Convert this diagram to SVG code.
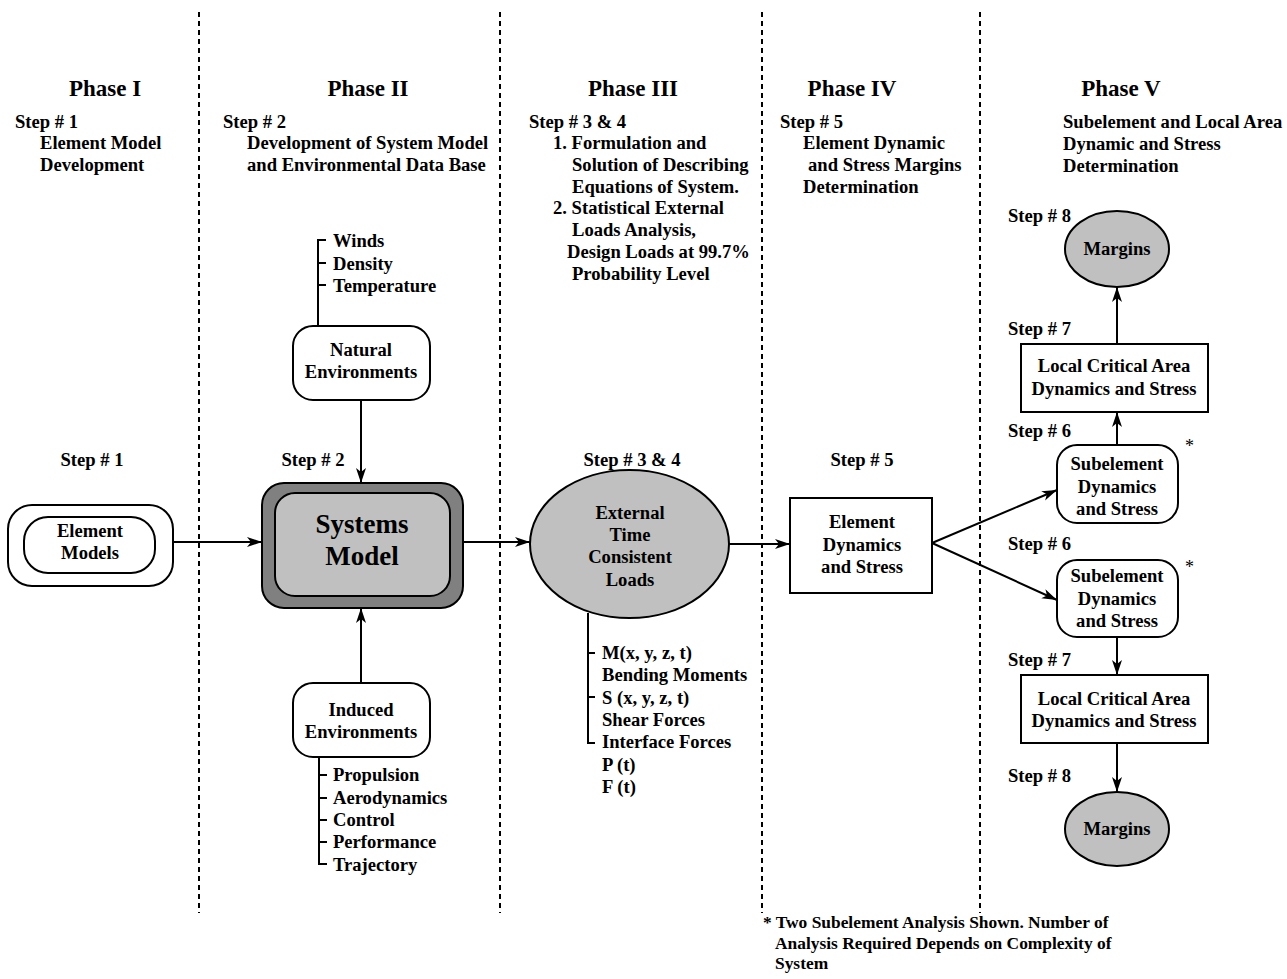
<svg xmlns="http://www.w3.org/2000/svg" width="1287" height="979" viewBox="0 0 1287 979">
<style>
text{font-family:"Liberation Serif","Times New Roman",serif;font-weight:bold;font-size:18.6px;fill:#000}
.ph{font-size:23px}
.big{font-size:27px}
.c{text-anchor:middle}
.note{font-size:17.4px}
.ast{font-weight:normal;font-size:18px}
.dash{stroke:#000;stroke-width:2;stroke-dasharray:5,4;fill:none}
.box{fill:#fff;stroke:#000;stroke-width:2}
.gray{fill:#c0c0c0;stroke:#000;stroke-width:2}
.dark{fill:#808080;stroke:#000;stroke-width:2}
.ln{stroke:#000;stroke-width:2;fill:none}
.arr{stroke:#000;stroke-width:2;fill:none;marker-end:url(#ah)}
</style>
<defs>
<marker id="ah" markerUnits="userSpaceOnUse" markerWidth="16" markerHeight="12" refX="15" refY="5" orient="auto" viewBox="0 0 16 10">
<path d="M0,0 L15,5 L0,10 L4,5 Z" fill="#000"/>
</marker>
</defs>
<g id="phase-dividers">
<line class="dash" x1="199" y1="12" x2="199" y2="913"/>
<line class="dash" x1="500" y1="12" x2="500" y2="913"/>
<line class="dash" x1="762" y1="12" x2="762" y2="913"/>
<line class="dash" x1="980" y1="12" x2="980" y2="913"/>
</g>
<g id="headers">
<text class="ph c" x="105" y="96">Phase I</text>
<text class="ph c" x="368" y="96">Phase II</text>
<text class="ph c" x="633" y="96">Phase III</text>
<text class="ph c" x="852" y="96">Phase IV</text>
<text class="ph c" x="1121" y="96">Phase V</text>
<text x="15" y="128">Step # 1</text>
<text x="40" y="149">Element Model</text>
<text x="40" y="171">Development</text>
<text x="223" y="128">Step # 2</text>
<text x="247" y="149">Development of System Model</text>
<text x="247" y="171">and Environmental Data Base</text>
<text x="529" y="128">Step # 3 &amp; 4</text>
<text x="553" y="149">1. Formulation and</text>
<text x="572" y="171">Solution of Describing</text>
<text x="572" y="193">Equations of System.</text>
<text x="553" y="214">2. Statistical External</text>
<text x="572" y="236">Loads Analysis,</text>
<text x="567" y="258">Design Loads at 99.7%</text>
<text x="572" y="280">Probability Level</text>
<text x="780" y="128">Step # 5</text>
<text x="803" y="149">Element Dynamic</text>
<text x="808" y="171">and Stress Margins</text>
<text x="803" y="193">Determination</text>
<text x="1063" y="128">Subelement and Local Area</text>
<text x="1063" y="150">Dynamic and Stress</text>
<text x="1063" y="172">Determination</text>
</g>
<g id="step-labels">
<text class="c" x="92" y="466">Step # 1</text>
<text class="c" x="313" y="466">Step # 2</text>
<text class="c" x="632" y="466">Step # 3 &amp; 4</text>
<text class="c" x="862" y="466">Step # 5</text>
<text x="1008" y="222">Step # 8</text>
<text x="1008" y="335">Step # 7</text>
<text x="1008" y="437">Step # 6</text>
<text x="1008" y="550">Step # 6</text>
<text x="1008" y="666">Step # 7</text>
<text x="1008" y="782">Step # 8</text>
</g>
<g id="connectors">
<line class="arr" x1="173" y1="542" x2="262" y2="542"/>
<line class="arr" x1="361" y1="400" x2="361" y2="483"/>
<line class="arr" x1="361" y1="683" x2="361" y2="608"/>
<line class="arr" x1="463" y1="542" x2="530" y2="542"/>
<line class="arr" x1="729" y1="544" x2="790" y2="544"/>
<line class="arr" x1="932" y1="543" x2="1057" y2="490"/>
<line class="arr" x1="932" y1="543" x2="1057" y2="600"/>
<line class="arr" x1="1117" y1="445" x2="1117" y2="412"/>
<line class="arr" x1="1117" y1="344" x2="1117" y2="287"/>
<line class="arr" x1="1117" y1="637" x2="1117" y2="675"/>
<line class="arr" x1="1117" y1="743" x2="1117" y2="792"/>
<path class="ln" d="M326,240 H318 V326 M318,263 H326 M318,285 H326"/>
<path class="ln" d="M319,757 V864 H327 M319,775 H327 M319,798 H327 M319,820 H327 M319,842 H327"/>
<path class="ln" d="M588,613 V743 H595 M588,653 H595 M588,697 H595"/>
</g>
<g id="element-models">
<rect class="box" x="8" y="505" width="165" height="81" rx="24"/>
<rect class="box" x="24" y="517" width="131" height="56" rx="24"/>
<text class="c" x="90" y="537">Element</text>
<text class="c" x="90" y="559">Models</text>
</g>
<g id="systems-model">
<rect class="dark" x="262" y="483" width="201" height="125" rx="22"/>
<rect class="gray" x="275" y="493" width="175" height="103" rx="20"/>
<text class="big c" x="362" y="533">Systems</text>
<text class="big c" x="362" y="565">Model</text>
</g>
<g id="natural-environments">
<rect class="box" x="293" y="326" width="137" height="74" rx="20"/>
<text class="c" x="361" y="356">Natural</text>
<text class="c" x="361" y="378">Environments</text>
<text x="333" y="247">Winds</text>
<text x="333" y="270">Density</text>
<text x="333" y="292">Temperature</text>
</g>
<g id="induced-environments">
<rect class="box" x="293" y="683" width="137" height="74" rx="20"/>
<text class="c" x="361" y="716">Induced</text>
<text class="c" x="361" y="738">Environments</text>
<text x="333" y="781">Propulsion</text>
<text x="333" y="804">Aerodynamics</text>
<text x="333" y="826">Control</text>
<text x="333" y="848">Performance</text>
<text x="333" y="871">Trajectory</text>
</g>
<g id="external-loads">
<ellipse class="gray" cx="629.5" cy="544" rx="99.5" ry="74"/>
<text class="c" x="630" y="519">External</text>
<text class="c" x="630" y="541">Time</text>
<text class="c" x="630" y="563">Consistent</text>
<text class="c" x="630" y="586">Loads</text>
<text x="602" y="659">M(x, y, z, t)</text>
<text x="602" y="681">Bending Moments</text>
<text x="602" y="704">S (x, y, z, t)</text>
<text x="602" y="726">Shear Forces</text>
<text x="602" y="748">Interface Forces</text>
<text x="602" y="771">P (t)</text>
<text x="602" y="793">F (t)</text>
</g>
<g id="element-dynamics">
<rect class="box" x="790" y="498" width="142" height="95"/>
<text class="c" x="862" y="528">Element</text>
<text class="c" x="862" y="551">Dynamics</text>
<text class="c" x="862" y="573">and Stress</text>
</g>
<g id="subelement-1">
<rect class="box" x="1057" y="445" width="121" height="78" rx="20"/>
<text class="c" x="1117" y="470">Subelement</text>
<text class="c" x="1117" y="493">Dynamics</text>
<text class="c" x="1117" y="515">and Stress</text>
<text class="ast" x="1185" y="452">*</text>
</g>
<g id="subelement-2">
<rect class="box" x="1057" y="560" width="121" height="77" rx="20"/>
<text class="c" x="1117" y="582">Subelement</text>
<text class="c" x="1117" y="605">Dynamics</text>
<text class="c" x="1117" y="627">and Stress</text>
<text class="ast" x="1185" y="573">*</text>
</g>
<g id="local-critical-1">
<rect class="box" x="1021" y="344" width="187" height="68"/>
<text class="c" x="1114" y="372">Local Critical Area</text>
<text class="c" x="1114" y="395">Dynamics and Stress</text>
</g>
<g id="local-critical-2">
<rect class="box" x="1021" y="675" width="187" height="68"/>
<text class="c" x="1114" y="705">Local Critical Area</text>
<text class="c" x="1114" y="727">Dynamics and Stress</text>
</g>
<g id="margins-1">
<ellipse class="gray" cx="1117" cy="249" rx="52" ry="38"/>
<text class="c" x="1117" y="255">Margins</text>
</g>
<g id="margins-2">
<ellipse class="gray" cx="1117" cy="829" rx="52" ry="37"/>
<text class="c" x="1117" y="835">Margins</text>
</g>
<g id="footnote">
<text class="note" x="763" y="928">* Two Subelement Analysis Shown. Number of</text>
<text class="note" x="775" y="949">Analysis Required Depends on Complexity of</text>
<text class="note" x="775" y="969">System</text>
</g>
</svg>
